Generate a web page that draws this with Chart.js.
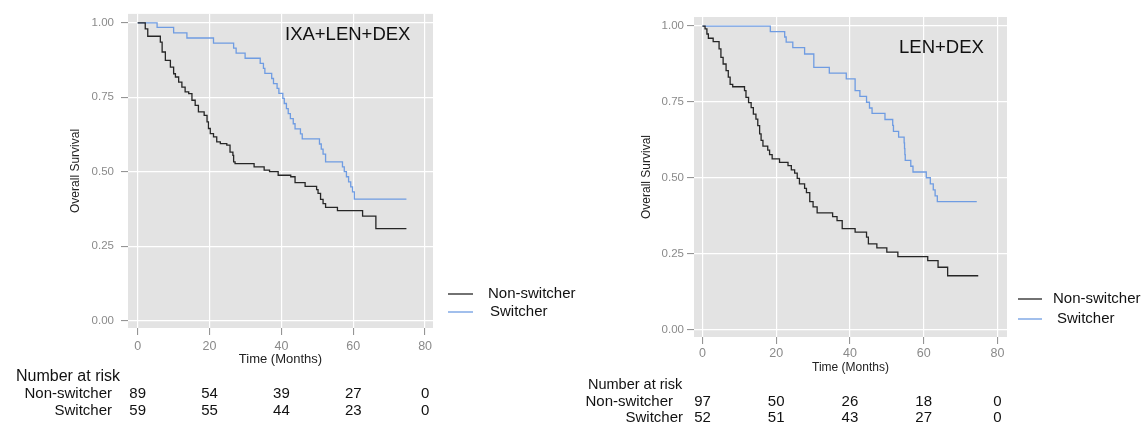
<!DOCTYPE html>
<html>
<head>
<meta charset="utf-8">
<script src="https://cdn.jsdelivr.net/npm/chart.js@4.4.0/dist/chart.umd.min.js"></script>
<style>
  body { margin: 0; background: #fff; width: 1141px; height: 426px; overflow: hidden; position: relative; }
  canvas { position: absolute; top: 0; }
  #ixa-chart { left: 0; }
  #len-chart { left: 570px; }
</style>
</head>
<body>
<canvas id="ixa-chart" width="600" height="426"></canvas>
<canvas id="len-chart" width="571" height="426"></canvas>
<script>
// tick labels
const timeTicks = [0, 20, 40, 60, 80];
const survTicks = [0, 0.25, 0.5, 0.75, 1];
const seriesNames = ['Non-switcher', 'Switcher'];

// IXA+LEN+DEX panel
const ixaNonTime = [0, 2.1, 2.8, 6.3, 6.8, 7.7, 9.1, 10.0, 10.5, 11.4, 12.3, 13.2, 14.2, 15.1, 16.0, 16.9, 18.5, 19.3, 19.7, 20.2, 21.1, 22.0, 23.0, 24.8, 25.7, 26.5, 26.7, 27.1, 32.4, 35.2, 36.7, 39.1, 42.6, 43.8, 46.6, 49.8, 50.2, 50.9, 51.6, 52.3, 55.6, 62.6, 66.3, 74.8];
const ixaNonSurv = [1, 0.98, 0.955, 0.935, 0.902, 0.874, 0.851, 0.829, 0.818, 0.801, 0.784, 0.768, 0.762, 0.74, 0.723, 0.701, 0.689, 0.667, 0.645, 0.628, 0.617, 0.6, 0.594, 0.589, 0.566, 0.555, 0.533, 0.527, 0.516, 0.505, 0.5, 0.488, 0.483, 0.463, 0.451, 0.44, 0.427, 0.407, 0.393, 0.38, 0.369, 0.351, 0.309, 0.309];
const ixaSwTime = [0, 5.4, 10.0, 13.7, 21.1, 26.7, 27.4, 29.9, 34.1, 35.0, 35.4, 37.3, 37.8, 38.8, 39.3, 40.4, 40.8, 41.4, 41.9, 42.5, 43.3, 43.8, 45.3, 45.8, 50.6, 51.1, 51.6, 52.3, 57.0, 57.5, 58.1, 58.7, 59.3, 59.8, 60.3, 74.8];
const ixaSwSurv = [1, 0.985, 0.966, 0.949, 0.932, 0.915, 0.898, 0.881, 0.864, 0.847, 0.83, 0.813, 0.796, 0.78, 0.763, 0.746, 0.729, 0.712, 0.695, 0.678, 0.661, 0.644, 0.627, 0.61, 0.593, 0.576, 0.559, 0.533, 0.516, 0.5, 0.483, 0.466, 0.449, 0.432, 0.408, 0.408];
const ixaRiskNon = [89, 54, 39, 27, 0];
const ixaRiskSw = [59, 55, 44, 23, 0];

// LEN+DEX panel
const lenNonTime = [0, 0.7, 1.2, 1.6, 2.9, 4.5, 5.0, 5.6, 6.4, 7.0, 7.5, 8.2, 11.4, 11.8, 12.5, 13.2, 13.8, 14.5, 15.0, 15.5, 15.9, 16.4, 17.7, 18.2, 18.9, 20.9, 23.2, 24.1, 25.0, 25.7, 26.3, 27.7, 28.2, 29.1, 30.0, 31.1, 35.3, 36.5, 37.9, 41.4, 44.5, 45.0, 47.3, 50.0, 53.0, 61.1, 63.9, 66.5, 74.8];
const lenNonSurv = [1, 0.991, 0.974, 0.96, 0.949, 0.925, 0.897, 0.875, 0.853, 0.832, 0.808, 0.8, 0.787, 0.765, 0.748, 0.731, 0.71, 0.693, 0.672, 0.645, 0.623, 0.604, 0.591, 0.576, 0.562, 0.551, 0.54, 0.526, 0.515, 0.498, 0.48, 0.465, 0.451, 0.421, 0.404, 0.384, 0.372, 0.359, 0.332, 0.321, 0.304, 0.282, 0.269, 0.255, 0.24, 0.227, 0.205, 0.177, 0.177];
const lenSwTime = [0, 18.4, 22.3, 22.7, 24.5, 27.7, 30.2, 34.4, 39.0, 41.4, 42.7, 44.5, 45.3, 46.0, 49.5, 51.6, 51.8, 53.2, 54.7, 54.8, 54.9, 55.0, 56.5, 57.1, 60.7, 61.8, 62.6, 63.1, 63.7, 74.4];
const lenSwSurv = [1, 0.982, 0.964, 0.947, 0.929, 0.908, 0.864, 0.845, 0.826, 0.787, 0.768, 0.749, 0.73, 0.712, 0.692, 0.673, 0.653, 0.634, 0.615, 0.596, 0.576, 0.557, 0.538, 0.519, 0.5, 0.48, 0.46, 0.44, 0.421, 0.421];
const lenRiskNon = [97, 50, 26, 18, 0];
const lenRiskSw = [52, 51, 43, 27, 0];

const FONT = "'Liberation Sans', Arial, sans-serif";
const NON_COLOR = '#262626';
const SW_COLOR = '#6f9ce2';
const PANEL_BG = '#e3e3e3';
const TICK_GREY = '#8a8a8a';

const toPoints = (times, surv) => times.map((t, i) => ({x: t, y: surv[i]}));

const kmDecor = {
    id: 'kmDecor',
    beforeDraw(chart) {
        const {ctx, chartArea: a} = chart;
        ctx.save();
        ctx.fillStyle = PANEL_BG;
        ctx.fillRect(a.left, a.top, a.right - a.left, a.bottom - a.top);
        ctx.restore();
    },
    afterDraw(chart, args, o) {
        const ctx = chart.ctx;
        const xs = chart.scales.x;
        ctx.save();
        ctx.textBaseline = 'middle';

        // panel label
        ctx.fillStyle = '#111';
        ctx.font = `18.5px ${FONT}`;
        ctx.textAlign = 'left';
        ctx.fillText(o.label, o.labelX, o.labelY);

        // legend
        ctx.font = `15px ${FONT}`;
        [NON_COLOR, SW_COLOR].forEach((c, i) => {
            ctx.strokeStyle = c;
            ctx.lineWidth = 1.3;
            ctx.beginPath();
            ctx.moveTo(o.legX[0], o.legY[i]);
            ctx.lineTo(o.legX[1], o.legY[i]);
            ctx.stroke();
            ctx.fillStyle = '#111';
            ctx.fillText(seriesNames[i], o.legText[i], o.legY[i]);
        });

        // number at risk table
        ctx.fillStyle = '#111';
        ctx.font = `${o.riskTitleSize}px ${FONT}`;
        ctx.textAlign = 'left';
        ctx.fillText('Number at risk', o.riskTitleX, o.riskTitleY);
        ctx.font = `15px ${FONT}`;
        [o.riskNon, o.riskSw].forEach((row, i) => {
            ctx.textAlign = 'right';
            ctx.fillText(seriesNames[i], o.rowRight[i], o.rowY[i]);
            ctx.textAlign = 'center';
            row.forEach((n, j) => {
                ctx.fillText(String(n), xs.getPixelForValue(timeTicks[j]), o.rowY[i]);
            });
        });
        ctx.restore();
    }
};

const makeKmChart = (id, g, nonT, nonS, swT, swS, decor) => {
    const canvas = document.getElementById(id);
    const W = canvas.width, H = canvas.height;
    const xAxisH = 40;
    new Chart(canvas.getContext('2d'), {
        type: 'line',
        data: {
            datasets: [
                {
                    label: seriesNames[0],
                    data: toPoints(nonT, nonS),
                    borderColor: NON_COLOR,
                    borderWidth: 1.3,
                    stepped: 'before',
                    pointRadius: 0
                },
                {
                    label: seriesNames[1],
                    data: toPoints(swT, swS),
                    borderColor: SW_COLOR,
                    borderWidth: 1.3,
                    stepped: 'before',
                    pointRadius: 0
                }
            ]
        },
        options: {
            responsive: false,
            animation: false,
            devicePixelRatio: 1,
            layout: {
                padding: {left: 0, top: g.top, right: W - g.right, bottom: H - g.bottom - xAxisH}
            },
            plugins: {
                legend: {display: false},
                tooltip: {enabled: false},
                kmDecor: decor
            },
            scales: {
                x: {
                    type: 'linear',
                    min: g.xMin,
                    max: g.xMax,
                    afterBuildTicks: (ax) => { ax.ticks = timeTicks.map((v) => ({value: v})); },
                    afterFit: (ax) => { ax.height = xAxisH; },
                    border: {display: false},
                    grid: {color: '#ffffff', lineWidth: 1.2, tickColor: TICK_GREY, tickLength: 7, tickWidth: 1},
                    ticks: {color: TICK_GREY, font: {family: FONT, size: g.xTickSize}, padding: g.xTickPad, maxRotation: 0},
                    title: {
                        display: true, text: 'Time (Months)', color: '#222',
                        font: {family: FONT, size: g.xTitleSize}, padding: {top: 0, bottom: g.xTitlePad}
                    }
                },
                y: {
                    min: -0.025,
                    max: 1.03,
                    afterBuildTicks: (ax) => { ax.ticks = survTicks.map((v) => ({value: v})); },
                    afterFit: (ax) => { ax.width = g.left; },
                    border: {display: false},
                    grid: {color: '#ffffff', lineWidth: 1.2, tickColor: TICK_GREY, tickLength: 7, tickWidth: 1},
                    ticks: {
                        color: TICK_GREY, font: {family: FONT, size: 11.5}, padding: g.yTickPad,
                        callback: (v) => Number(v).toFixed(2)
                    },
                    title: {
                        display: true, text: 'Overall Survival', color: '#222',
                        font: {family: FONT, size: 12}, padding: {top: g.yTitlePad, bottom: 0}
                    }
                }
            }
        },
        plugins: [kmDecor]
    });
};

makeKmChart('ixa-chart',
    {left: 128, right: 433, top: 12, bottom: 328, xMin: -2.7, xMax: 82.2,
     xTickSize: 12.5, xTickPad: 4, xTitleSize: 13, xTitlePad: 1, yTickPad: 7, yTitlePad: 68},
    ixaNonTime, ixaNonSurv, ixaSwTime, ixaSwSurv,
    {label: 'IXA+LEN+DEX', labelX: 285, labelY: 35,
     legX: [448, 473], legY: [294, 312], legText: [488, 490],
     riskTitleSize: 16, riskTitleX: 16, riskTitleY: 377,
     rowRight: [112, 112], rowY: [394, 411], riskNon: ixaRiskNon, riskSw: ixaRiskSw});

makeKmChart('len-chart',
    {left: 124, right: 437, top: 17, bottom: 337, xMin: -2.3, xMax: 82.6,
     xTickSize: 12.5, xTickPad: 2.5, xTitleSize: 12, xTitlePad: 2.5, yTickPad: 3, yTitlePad: 69.5},
    lenNonTime, lenNonSurv, lenSwTime, lenSwSurv,
    {label: 'LEN+DEX', labelX: 329, labelY: 48,
     legX: [448, 472], legY: [299, 319], legText: [483, 487],
     riskTitleSize: 14.5, riskTitleX: 18, riskTitleY: 385,
     rowRight: [103, 113], rowY: [402, 418], riskNon: lenRiskNon, riskSw: lenRiskSw});
</script>
</body>
</html>
